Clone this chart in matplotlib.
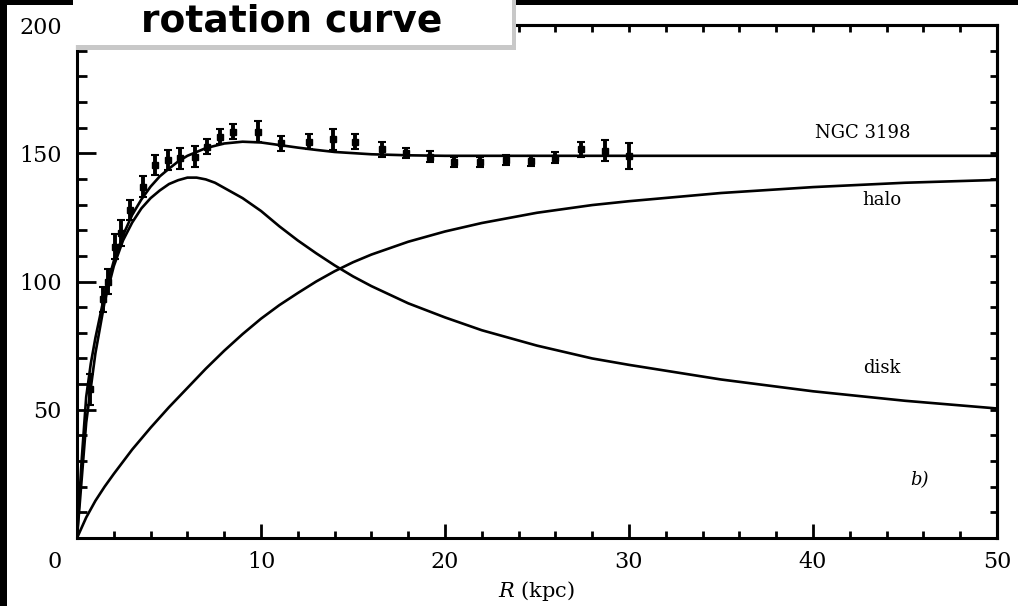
import numpy as np
import matplotlib
matplotlib.use("Agg")
import matplotlib.pyplot as plt
from matplotlib.patches import Rectangle
from matplotlib.transforms import ScaledTranslation

plt.rcParams["mathtext.fontset"] = "dejavuserif"

# Model curves (R in kpc, v in km/s)
R_total = [0, 0.25, 0.5, 0.75, 1, 1.5, 2, 2.5, 3, 3.5, 4, 4.5, 5, 5.5, 6, 7, 8, 9, 10, 11, 12, 13, 14,
           16, 18, 20, 25, 30, 40, 50]
v_total = [0, 30, 55, 68, 78, 95, 108, 118, 126, 132, 137, 141, 144, 146.8, 149, 152, 153.8, 154.5,
           154.2, 153.2, 152.2, 151.3, 150.5, 149.6, 149.2, 149, 149, 149, 149, 149]

R_disk = [0, 0.5, 1, 1.5, 2, 2.5, 3, 3.5, 4, 4.5, 5, 5.5, 6, 6.5, 7, 7.5, 8, 9, 10, 11, 12, 13, 14, 15,
          16, 18, 20, 22, 25, 28, 30, 35, 40, 45, 50]
v_disk = [0, 45, 72, 92, 106, 116, 123, 128.5, 132.5, 135.5, 138, 139.5, 140.5, 140.5, 139.8, 138.5,
          136.5, 132.5, 127.5, 121.5, 116, 111, 106.3, 102, 98.2, 91.5, 86, 81, 75, 70, 67.5, 61.8,
          57.2, 53.5, 50.5]

R_halo = [0, 0.5, 1, 1.5, 2, 3, 4, 5, 6, 7, 8, 9, 10, 11, 12, 13, 14, 15, 16, 18, 20, 22, 25, 28, 30,
          35, 40, 45, 50]
v_halo = [0, 8, 14.5, 20, 25, 34.5, 43, 51, 58.5, 66, 73, 79.5, 85.5, 90.8, 95.5, 100, 104, 107.5,
          110.5, 115.5, 119.5, 122.8, 126.8, 129.8, 131.3, 134.5, 136.8, 138.5, 139.6]

# Observed points of NGC 3198
R_obs = [0.7, 1.4, 1.7, 2.07, 2.4, 2.88, 3.6, 4.24, 4.96, 5.6, 6.4, 7.05, 7.77, 8.5, 9.85, 11.1,
         12.6, 13.9, 15.1, 16.6, 17.9, 19.2, 20.5, 21.9, 23.3, 24.7, 26.0, 27.4, 28.7, 30.0]
v_obs = [58, 93, 100, 113.6, 119, 127.9, 137, 145.4, 147.4, 148, 148.7, 152.6, 156.5, 158.4, 158.4,
         153.9, 154.5, 155.4, 154.5, 151.5, 150, 148.7, 146.7, 146.5, 147.5, 147, 148.3, 151.5, 151,
         149]
v_err = [6, 5, 5, 5, 5, 4, 4, 4, 4, 4, 4, 3, 3, 3, 4, 3, 3, 4, 3, 3, 2, 2, 2, 2, 2, 2, 2, 3, 4, 5]

x_ticks = [0, 10, 20, 30, 40, 50]
y_ticks = [50, 100, 150, 200]

W, H = 1018, 606
fig = plt.figure(figsize=(W / 100, H / 100), dpi=100, facecolor="black")

# white page on the dark frame
fig.add_artist(Rectangle((7 / W, 0), 1, (H - 5) / H, transform=fig.transFigure,
                         facecolor="white", edgecolor="none", zorder=-5))

ax = fig.add_axes([77 / W, (H - 538) / H, 920 / W, 513 / H])
ax.set_facecolor("white")

lw = 1.9
ax.plot(R_total, v_total, color="black", lw=lw)
ax.plot(R_disk, v_disk, color="black", lw=lw)
ax.plot(R_halo, v_halo, color="black", lw=lw)
ax.errorbar(R_obs, v_obs, yerr=v_err, fmt="s", ms=4, color="black",
            elinewidth=2.8, capsize=3, capthick=1.5)

ax.set_xlim(0, 50)
ax.set_ylim(0, 200)

serif = "DejaVu Serif"
ax.set_xticks(x_ticks)
ax.set_xticklabels([str(t) for t in x_ticks], fontfamily=serif, fontsize=16)
ax.set_xticks(np.arange(0, 51, 2), minor=True)
ax.set_yticks(y_ticks)
ax.set_yticklabels([str(t) for t in y_ticks], fontfamily=serif, fontsize=16)
ax.set_yticks(np.arange(0, 201, 10), minor=True)

ax.tick_params(axis="x", which="major", direction="in", length=10, width=2, pad=9, top=False)
ax.tick_params(axis="x", which="minor", direction="in", length=5, width=2, top=False)
ax.tick_params(axis="y", which="major", direction="in", length=14, width=2, pad=11, right=False)
ax.tick_params(axis="y", which="minor", direction="in", length=7, width=2, right=False)

# shift the origin label to the left like the scan
lbl0 = ax.get_xticklabels()[0]
lbl0.set_transform(lbl0.get_transform() + ScaledTranslation(-22 / 100, 0, fig.dpi_scale_trans))

for s in ax.spines.values():
    s.set_linewidth(2.2)

top = ax.secondary_xaxis("top")
top.set_xticks(x_ticks)
top.set_xticks(np.arange(0, 51, 2), minor=True)
top.tick_params(which="both", direction="in", length=5, width=2, labeltop=False)
top.spines["top"].set_linewidth(2.2)

right = ax.secondary_yaxis("right")
right.set_yticks([0] + y_ticks)
right.set_yticks(np.arange(0, 201, 10), minor=True)
right.tick_params(which="both", direction="in", length=5, width=2, labelright=False)
right.spines["right"].set_linewidth(2.2)

ax.set_xlabel("$R$ (kpc)", fontfamily=serif, fontsize=15, labelpad=5)

ax.text(42.7, 158, "NGC 3198", fontfamily=serif, fontsize=13, ha="center", va="center")
ax.text(43.75, 131.8, "halo", fontfamily=serif, fontsize=13, ha="center", va="center")
ax.text(43.75, 66.3, "disk", fontfamily=serif, fontsize=13, ha="center", va="center")
ax.text(45.8, 22.6, "b)", fontfamily=serif, fontsize=13, style="italic", ha="center", va="center")

# title box with soft shadow
fig.add_artist(Rectangle((76 / W, (H - 50) / H), 440 / W, 50 / H, transform=fig.transFigure,
                         facecolor="#c8c8c8", edgecolor="none", zorder=9))
fig.add_artist(Rectangle((73 / W, (H - 45) / H), 439 / W, 45 / H, transform=fig.transFigure,
                         facecolor="white", edgecolor="none", zorder=10))
fig.text(292 / W, (H - 31) / H, "rotation curve", fontfamily="DejaVu Sans",
         fontweight="bold", fontsize=27, ha="center", va="baseline", zorder=11)

fig.savefig("out.png", dpi=100, facecolor=fig.get_facecolor())
